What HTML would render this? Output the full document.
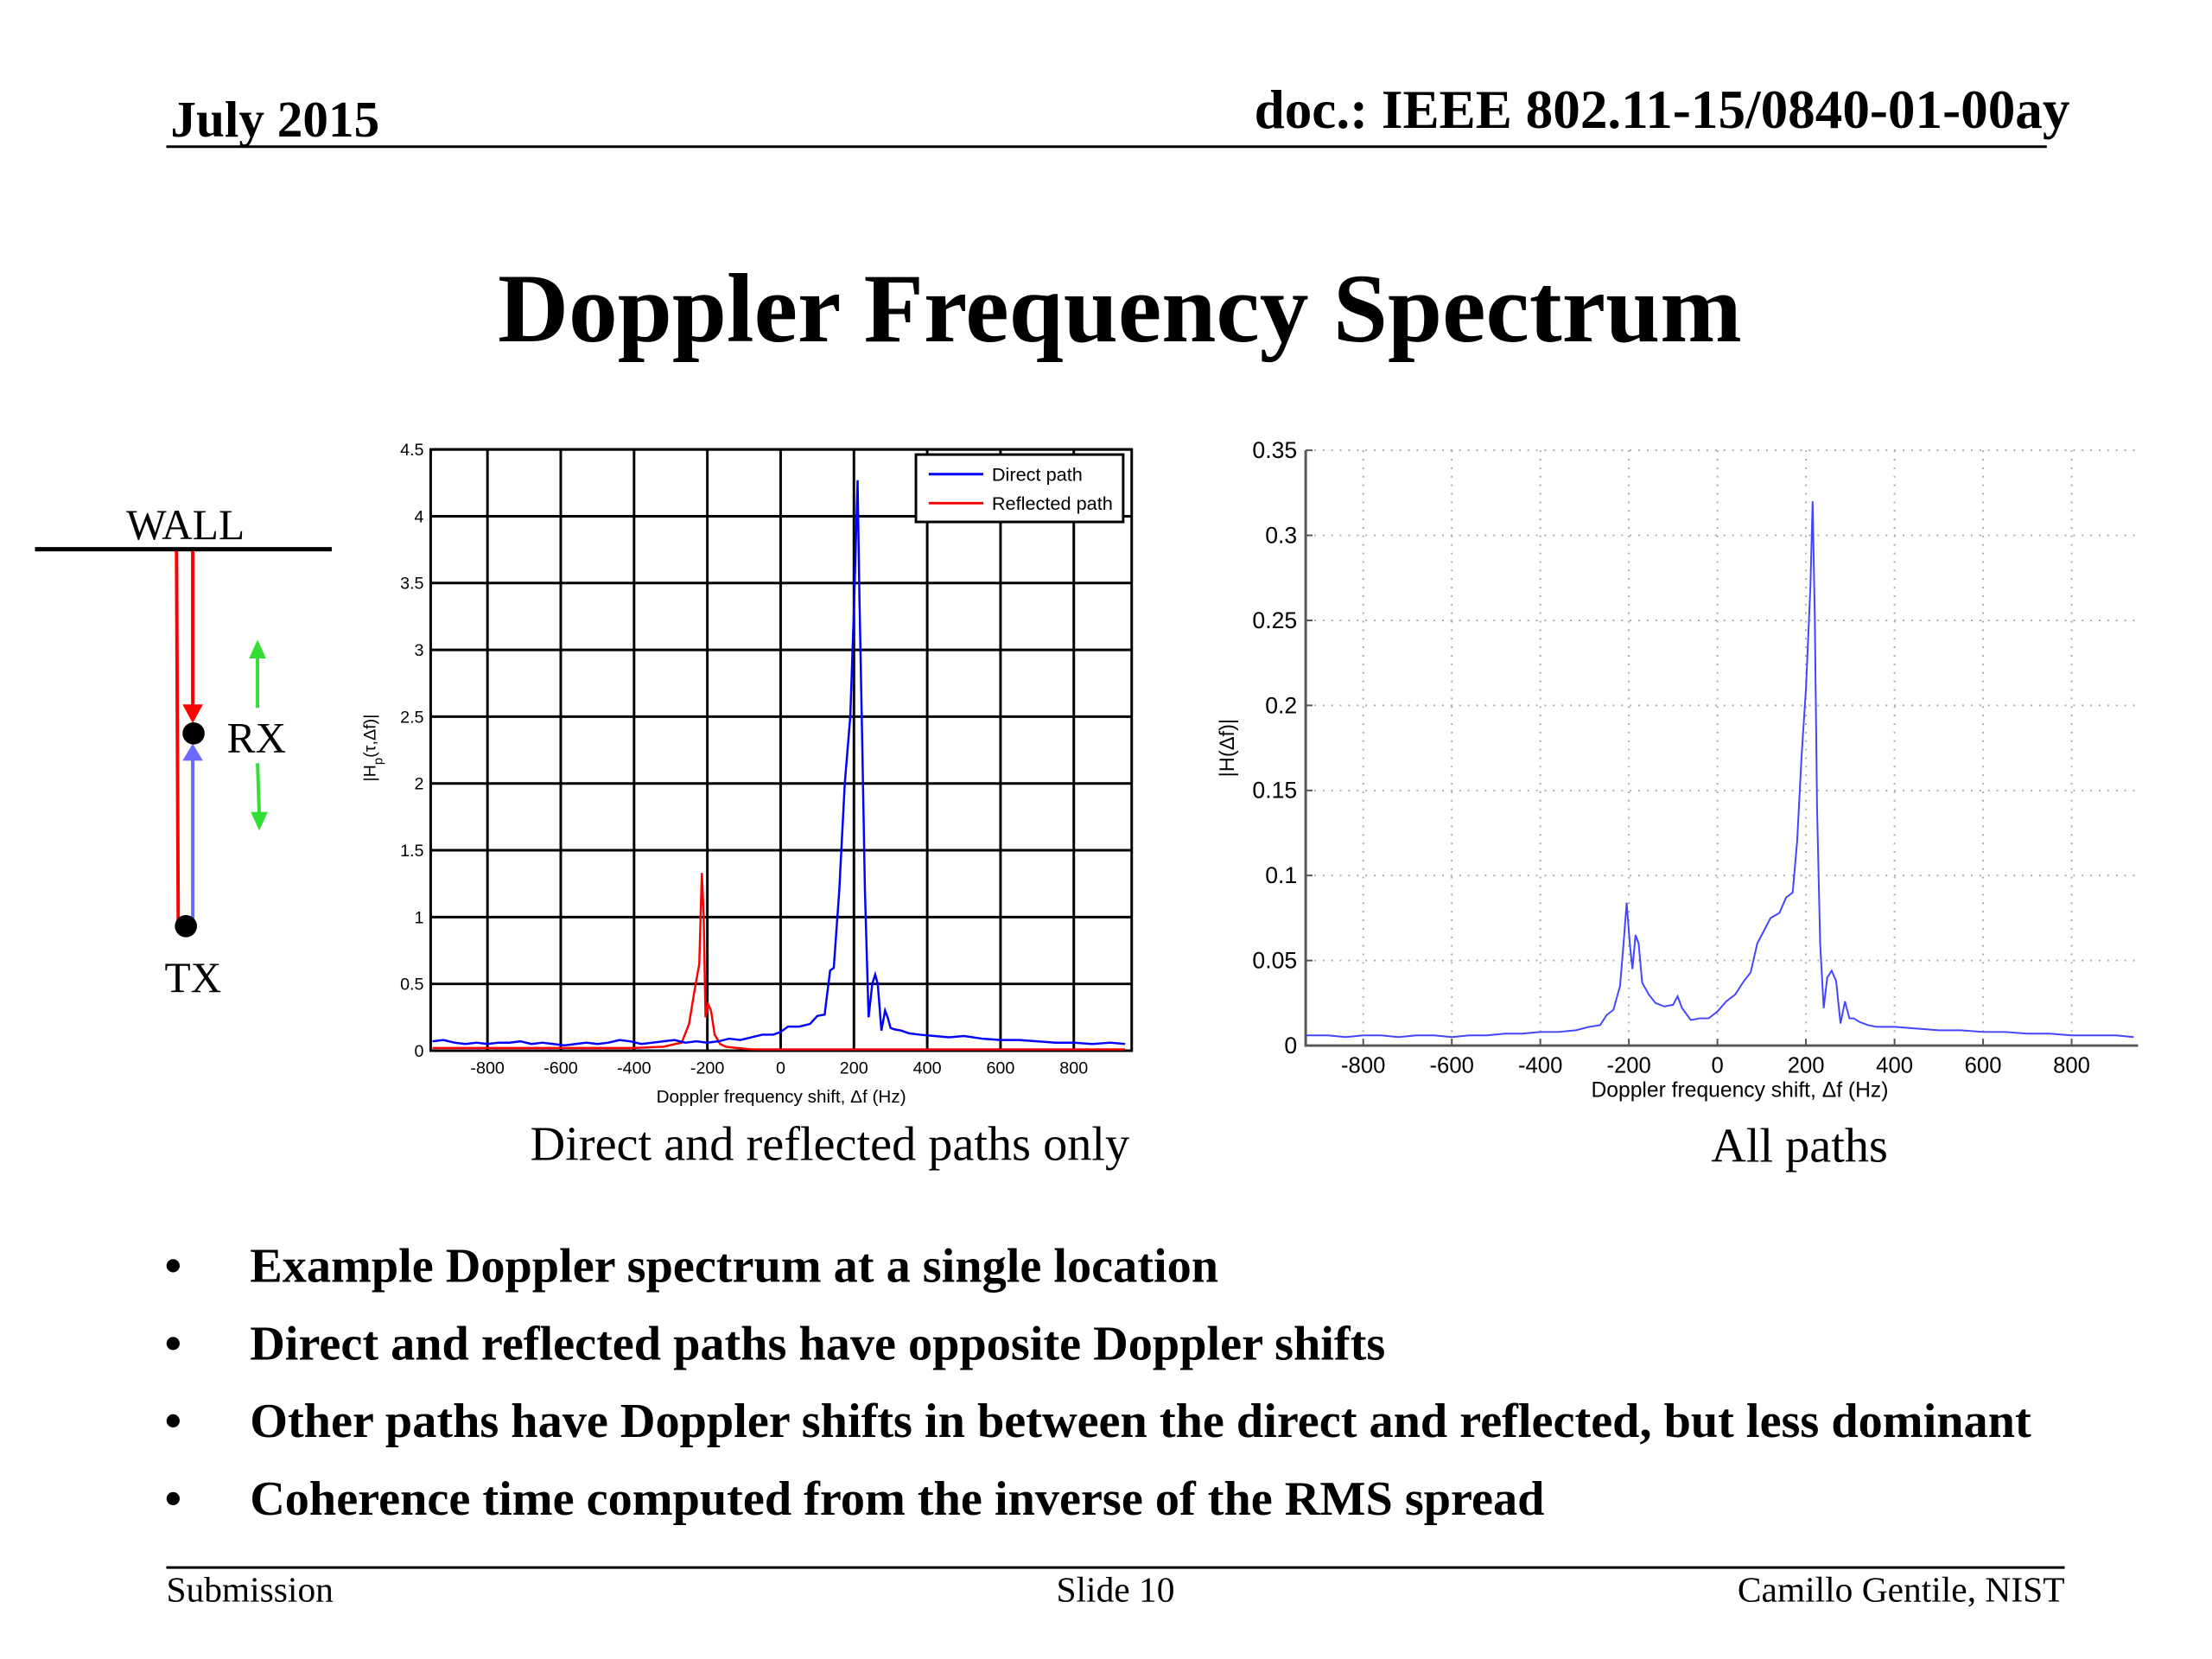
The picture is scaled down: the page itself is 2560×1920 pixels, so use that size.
<!DOCTYPE html>
<html><head><meta charset="utf-8"><style>
html,body{margin:0;padding:0;background:#fff}
svg{display:block}
</style></head><body>
<svg id="page" width="2560" height="1920" viewBox="0 0 2560 1920" xmlns="http://www.w3.org/2000/svg" font-family="'Liberation Serif', serif">
<g transform="scale(0.987)">
<text x="200" y="160" font-size="60" font-weight="bold">July 2015</text>
<text x="2427" y="150" font-size="64" font-weight="bold" text-anchor="end">doc.: IEEE 802.11-15/0840-01-00ay</text>
<line x1="195" y1="172" x2="2400" y2="172" stroke="#000" stroke-width="3"/>
<text x="1313" y="400" font-size="115" font-weight="bold" text-anchor="middle">Doppler Frequency Spectrum</text>

<g>
<text x="148" y="632" font-size="50">WALL</text>
<line x1="41" y1="644" x2="389" y2="644" stroke="#000" stroke-width="5"/>
<line x1="207" y1="646" x2="209" y2="1086" stroke="#f00" stroke-width="4"/>
<line x1="226" y1="646" x2="226" y2="828" stroke="#f00" stroke-width="4"/>
<polygon points="214,826 238,826 226,848" fill="#f00"/>
<line x1="226" y1="1080" x2="226" y2="890" stroke="#6a6aff" stroke-width="4"/>
<polygon points="214,892 238,892 226,872" fill="#6a6aff"/>
<circle cx="227" cy="860" r="13" fill="#000"/>
<circle cx="218" cy="1086" r="13" fill="#000"/>
<text x="266" y="882" font-size="50">RX</text>
<text x="193" y="1163" font-size="50">TX</text>
<line x1="302" y1="830" x2="302" y2="765" stroke="#3d3" stroke-width="4"/>
<polygon points="292,772 312,772 302,750" fill="#3d3"/>
<line x1="302" y1="895" x2="304" y2="955" stroke="#3d3" stroke-width="4"/>
<polygon points="294,952 314,952 304,974" fill="#3d3"/>
</g>

<g id="chart1"></g>
<g id="chart2"></g>

<text x="973" y="1360" font-size="57" text-anchor="middle">Direct and reflected paths only</text>
<text x="2110" y="1362" font-size="57" text-anchor="middle">All paths</text>

<g font-size="57" font-weight="bold">
<text x="193" y="1503"><tspan>•</tspan><tspan x="293">Example Doppler spectrum at a single location</tspan></text>
<text x="193" y="1594"><tspan>•</tspan><tspan x="293">Direct and reflected paths have opposite Doppler shifts</tspan></text>
<text x="193" y="1685"><tspan>•</tspan><tspan x="293">Other paths have Doppler shifts in between the direct and reflected, but less dominant</tspan></text>
<text x="193" y="1776"><tspan>•</tspan><tspan x="293">Coherence time computed from the inverse of the RMS spread</tspan></text>
</g>

<line x1="195" y1="1838" x2="2421" y2="1838" stroke="#000" stroke-width="3"/>
<text x="195" y="1878" font-size="42">Submission</text>
<text x="1308" y="1878" font-size="42" text-anchor="middle">Slide 10</text>
<text x="2421" y="1878" font-size="42" text-anchor="end">Camillo Gentile, NIST</text>
</g>
</svg>
<script>
const c1X = [-950,-920,-890,-860,-830,-800,-770,-740,-710,-680,-650,-620,-590,-560,-530,-500,-470,-440,-410,-380,-350,-320,-290,-260,-230,-200,-170,-140,-110,-80,-50,-20,0,20,50,80,100,120,135,145,160,175,190,200,210,215,222,230,240,250,258,265,275,285,292,300,310,330,350,380,420,460,500,550,600,650,700,750,800,850,900,940];
const c1Direct = [0.07,0.08,0.06,0.05,0.06,0.05,0.06,0.06,0.07,0.05,0.06,0.05,0.04,0.05,0.06,0.05,0.06,0.08,0.07,0.05,0.06,0.07,0.08,0.06,0.07,0.06,0.07,0.09,0.08,0.1,0.12,0.12,0.14,0.18,0.18,0.2,0.26,0.27,0.6,0.62,1.2,2.0,2.5,3.3,4.27,3.4,2.4,1.2,0.25,0.5,0.57,0.5,0.15,0.3,0.25,0.17,0.16,0.15,0.13,0.12,0.11,0.1,0.11,0.09,0.08,0.08,0.07,0.06,0.06,0.05,0.06,0.05];
const c1RefX = [-950,-800,-600,-400,-320,-270,-250,-235,-222,-215,-210,-205,-198,-190,-180,-165,-150,-120,-80,0,200,400,600,800,940];
const c1Reflected = [0.02,0.02,0.02,0.02,0.03,0.06,0.2,0.45,0.65,1.33,1.0,0.25,0.35,0.3,0.12,0.05,0.03,0.02,0.01,0.01,0.01,0.01,0.01,0.01,0.01];
const c1YTicks = [0,0.5,1,1.5,2,2.5,3,3.5,4,4.5];
const c1YLabels = ["0","0.5","1","1.5","2","2.5","3","3.5","4","4.5"];
const c1XTicks = [-800,-600,-400,-200,0,200,400,600,800];

const c2X = [-930,-880,-840,-800,-760,-720,-680,-640,-600,-560,-520,-480,-440,-400,-360,-320,-290,-265,-250,-235,-220,-212,-205,-198,-192,-185,-178,-170,-155,-140,-120,-100,-90,-80,-60,-40,-20,0,20,40,60,75,90,100,120,140,155,170,180,190,200,210,215,220,225,232,240,248,258,268,278,288,298,308,320,340,360,400,450,500,550,600,650,700,750,800,850,900,940];
const c2Values = [0.006,0.006,0.005,0.006,0.006,0.005,0.006,0.006,0.005,0.006,0.006,0.007,0.007,0.008,0.008,0.009,0.011,0.012,0.018,0.021,0.035,0.06,0.084,0.06,0.045,0.065,0.06,0.037,0.03,0.025,0.023,0.024,0.029,0.022,0.015,0.016,0.016,0.02,0.026,0.03,0.038,0.043,0.06,0.065,0.075,0.078,0.087,0.09,0.12,0.17,0.21,0.27,0.32,0.25,0.14,0.06,0.022,0.04,0.044,0.038,0.013,0.026,0.016,0.016,0.014,0.012,0.011,0.011,0.01,0.009,0.009,0.008,0.008,0.007,0.007,0.006,0.006,0.006,0.005];
const c2YTicks = [0,0.05,0.1,0.15,0.2,0.25,0.3,0.35];
const c2YLabels = ["0","0.05","0.1","0.15","0.2","0.25","0.3","0.35"];
const c2XTicks = [-800,-600,-400,-200,0,200,400,600,800];

const NS = "http://www.w3.org/2000/svg";
function mk(parent, tag, attrs, text) {
  const e = document.createElementNS(NS, tag);
  for (const k in attrs) e.setAttribute(k, attrs[k]);
  if (text !== undefined) e.textContent = text;
  parent.appendChild(e);
  return e;
}
function scale(d0, d1, r0, r1) { return v => r0 + (v - d0) / (d1 - d0) * (r1 - r0); }

(function(){
  const g = document.getElementById('chart1');
  const L=505, R=1327, T=527, B=1232;
  const x = scale(-955, 958, L, R), y = scale(0, 4.5, B, T);
  const sans = "'Liberation Sans', sans-serif";
  c1YTicks.forEach((t,i)=>{
    const gl = mk(g,'line',{x1:L,x2:R,y1:y(t),y2:y(t),stroke:'#000','stroke-width':3});
    
    
    const tl = mk(g,'text',{x:L-8,y:y(t)+7,'font-size':20,'text-anchor':'end','font-family':sans},c1YLabels[i]);
    
    
  });
  c1XTicks.forEach(t=>{
    const gl = mk(g,'line',{x1:x(t),x2:x(t),y1:T,y2:B,stroke:'#000','stroke-width':3});
    
    
    const tl = mk(g,'text',{x:x(t),y:B+27,'font-size':20,'text-anchor':'middle','font-family':sans},String(t));
    
    
  });
  const fr = mk(g,'rect',{x:L,y:T,width:R-L,height:B-T,fill:'none',stroke:'#000','stroke-width':3});
  
  
  const ref = mk(g,'polyline',{points:c1RefX.map((v,i)=>x(v)+','+y(c1Reflected[i])).join(' '),fill:'none',stroke:'#f00','stroke-width':2.5});
  
  
  const dir = mk(g,'polyline',{points:c1X.map((v,i)=>x(v)+','+y(c1Direct[i])).join(' '),fill:'none',stroke:'#00f','stroke-width':2.5});
  
  
  const xl = mk(g,'text',{x:(L+R)/2,y:1293,'font-size':21,'text-anchor':'middle','font-family':sans},'Doppler frequency shift, Δf (Hz)');
  
  
  const yl = mk(g,'text',{x:0,y:0,'font-size':20,'text-anchor':'middle','font-family':sans,transform:'translate(440,877) rotate(-90)'});
  
  
  yl.innerHTML = '|H<tspan baseline-shift="sub" font-size="15">p</tspan>(τ,Δf)|';
  const lg = mk(g,'g',{});
  
  
  mk(lg,'rect',{x:1074,y:533,width:243,height:79,fill:'#fff',stroke:'#000','stroke-width':3});
  mk(lg,'line',{x1:1089,x2:1153,y1:556,y2:556,stroke:'#00f','stroke-width':3});
  mk(lg,'line',{x1:1089,x2:1153,y1:590,y2:590,stroke:'#f00','stroke-width':3});
  const e1 = mk(lg,'text',{x:1163,y:564,'font-size':22,'font-family':sans},'Direct path');
  
  
  const e2 = mk(lg,'text',{x:1163,y:598,'font-size':22,'font-family':sans},'Reflected path');
  
  
})();

(function(){
  const g = document.getElementById('chart2');
  const L=1531, R=2507, T=528, B=1226;
  const x = scale(-930, 950, L, R), y = scale(0, 0.35, B, T);
  const sans = "'Liberation Sans', sans-serif";
  c2YTicks.forEach((t,i)=>{
    if (t>0) {
      const gl = mk(g,'line',{x1:L,x2:R,y1:y(t),y2:y(t),stroke:'#aaa','stroke-width':2,'stroke-dasharray':'2,8'});
      
      
    }
    mk(g,'line',{x1:L,x2:L+8,y1:y(t),y2:y(t),stroke:'#555','stroke-width':2});
    const tl = mk(g,'text',{x:L-10,y:y(t)+9,'font-size':27,'text-anchor':'end','font-family':sans},c2YLabels[i]);
    
    
  });
  c2XTicks.forEach(t=>{
    const gl = mk(g,'line',{x1:x(t),x2:x(t),y1:T,y2:B,stroke:'#aaa','stroke-width':2,'stroke-dasharray':'2,8'});
    
    
    mk(g,'line',{x1:x(t),x2:x(t),y1:B,y2:B-8,stroke:'#555','stroke-width':2});
    const tl = mk(g,'text',{x:x(t),y:B+32,'font-size':26,'text-anchor':'middle','font-family':sans},String(t));
    
    
  });
  const ax = mk(g,'polyline',{points:`${L},${T} ${L},${B} ${R},${B}`,fill:'none',stroke:'#555','stroke-width':3});
  
  
  const s = mk(g,'polyline',{points:c2X.map((v,i)=>x(v)+','+y(c2Values[i])).join(' '),fill:'none',stroke:'#44f','stroke-width':2});
  
  
  const xl = mk(g,'text',{x:2040,y:1286,'font-size':25,'text-anchor':'middle','font-family':sans},'Doppler frequency shift, Δf (Hz)');
  
  
  const yl = mk(g,'text',{x:0,y:0,'font-size':24,'text-anchor':'middle','font-family':sans,transform:'translate(1447,877) rotate(-90)'},'|H(Δf)|');
  
  
})();
</script>
</body></html>
